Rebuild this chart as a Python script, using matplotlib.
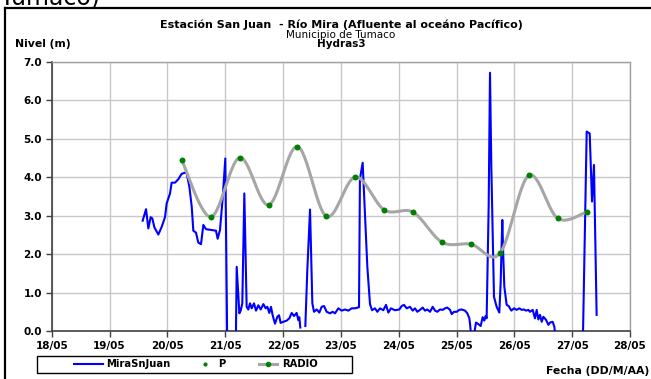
import numpy as np
import matplotlib
matplotlib.use('Agg')
import matplotlib.pyplot as plt
from matplotlib.lines import Line2D
from matplotlib.patches import Rectangle

# days counted from 18/05 00:00
tick_labels = ['18/05', '19/05', '20/05', '21/05', '22/05', '23/05',
               '24/05', '25/05', '26/05', '27/05', '28/05']

# MiraSnJuan level (m); nan = missing data
mira_day = [1.573, 1.631, 1.671, 1.711, 1.740, 1.775, 1.844, 1.902, 1.959, 1.988,
            2.046, 2.074, 2.132, 2.190, 2.247, 2.305, 2.334, 2.380, 2.421, 2.449,
            2.495, 2.535, 2.582, 2.622, 2.668, 2.749, 2.841, 2.870, 2.910, 2.956,
            3.002, 3.037, 3.110, 3.182, 3.199, 3.245, 3.268, 3.296, 3.331, 3.371,
            3.400, 3.429, 3.458, 3.498, 3.533, 3.573, 3.614, 3.660, 3.700, 3.729,
            3.763, 3.792, 3.821, 3.861, 3.902, 3.931, 3.959, 4.005, 4.063, 4.109,
            4.150, 4.190, 4.236, 4.265, 4.282, 4.299, 4.340, 4.386, 4.420, 4.467,
            4.507, 4.536, 4.582, 4.628, 4.668, 4.709, 4.755, 4.812, 4.859, 4.899,
            4.956, 5.014, 5.072, 5.129, 5.187, 5.245, 5.291, 5.314, 5.330, 5.377,
            5.458, 5.504, 5.539, 5.590, 5.631, 5.677, 5.734, 5.781, 5.821, 5.867,
            5.936, 6.011, 6.052, 6.092, 6.138, 6.196, 6.242, 6.282, 6.322, 6.369,
            6.415, 6.455, 6.495, 6.542, 6.588, 6.628, 6.668, 6.715, 6.761, 6.801,
            6.841, 6.888, 6.917, 6.957, 7.003, 7.049, 7.089, 7.147, 7.187, 7.222,
            7.233, 7.270, 7.337, 7.377, 7.418, 7.452, 7.481, 7.504, 7.521, 7.556,
            7.579, 7.602, 7.648, 7.694, 7.740, 7.763, 7.792, 7.809, 7.827, 7.867,
            7.902, 7.948, 7.994, 8.040, 8.086, 8.127, 8.167, 8.202, 8.242, 8.271,
            8.317, 8.357, 8.386, 8.415, 8.444, 8.473, 8.502, 8.548, 8.589, 8.617,
            8.663, 8.692, 8.740, 8.950, 9.181, 9.251, 9.303, 9.343, 9.377, 9.423]
mira_val = [2.87, 3.17, 2.67, 2.96, 2.93, 2.70, 2.51, 2.71, 2.96, 3.32,
            3.58, 3.86, 3.86, 3.95, 4.09, 4.12, 4.10, 3.76, 3.24, 2.61,
            2.56, 2.30, 2.26, 2.76, 2.65, 2.63, 2.61, 2.40, 2.63, 3.45,
            4.49, -0.60, -0.60, -0.60, 1.67, 0.46, 0.53, 0.72, 3.58, 0.63,
            0.56, 0.72, 0.59, 0.72, 0.53, 0.67, 0.56, 0.70, 0.59, 0.63,
            0.47, 0.63, 0.41, 0.19, 0.37, 0.41, 0.21, 0.24, 0.27, 0.33,
            0.47, 0.39, 0.47, 0.28, 0.36, 0.09, np.nan, 0.13, 1.58, 3.16,
            0.72, 0.50, 0.56, 0.48, 0.63, 0.65, 0.50, 0.46, 0.50, 0.46,
            0.59, 0.53, 0.56, 0.53, 0.59, 0.59, 0.61, 0.62, 3.95, 4.38,
            1.67, 0.70, 0.54, 0.59, 0.50, 0.59, 0.54, 0.68, 0.48, 0.59,
            0.54, 0.56, 0.65, 0.68, 0.59, 0.63, 0.53, 0.59, 0.50, 0.55,
            0.61, 0.53, 0.56, 0.50, 0.63, 0.53, 0.50, 0.56, 0.55, 0.59,
            0.61, 0.55, 0.44, 0.50, 0.50, 0.55, 0.56, 0.53, 0.46, 0.33,
            0.20, -0.40, 0.22, 0.18, 0.13, 0.36, 0.27, 0.39, 0.33, 3.24,
            6.72, 4.28, 0.89, 0.63, 0.48, 1.24, 2.89, 1.93, 1.15, 0.68,
            0.65, 0.53, 0.59, 0.55, 0.59, 0.55, 0.56, 0.53, 0.55, 0.50,
            0.55, 0.33, 0.55, 0.30, 0.42, 0.24, 0.37, 0.29, 0.16, 0.22,
            0.24, 0.11, -0.60, -0.60, -0.60, 5.19, 5.14, 3.37, 4.32, 0.42]

# P / RADIO points (06:00 and 18:00 readings)
p_day = [2.25, 2.75, 3.25, 3.75, 4.25, 4.75, 5.25, 5.75, 6.25, 6.75,
         7.25, 7.75, 8.25, 8.75, 9.25]
p_val = [4.44, 2.97, 4.51, 3.28, 4.80, 2.98, 4.01, 3.15, 3.09, 2.31,
         2.26, 2.02, 4.05, 2.93, 3.10]

series_names = ['MiraSnJuan', 'P', 'RADIO']


# Excel style smoothed line (Catmull-Rom as cubic bezier)
def smooth(xs, ys, n=30):
    pts = np.column_stack([xs, ys]).astype(float)
    pad = np.vstack([pts[0], pts, pts[-1]])
    out = []
    t = np.linspace(0, 1, n)[:, None]
    for i in range(len(pts) - 1):
        p0, p1, p2, p3 = pad[i], pad[i + 1], pad[i + 2], pad[i + 3]
        c1 = p1 + (p2 - p0) / 6.0
        c2 = p2 - (p3 - p1) / 6.0
        seg = ((1 - t) ** 3) * p1 + 3 * ((1 - t) ** 2) * t * c1 + 3 * (1 - t) * t ** 2 * c2 + t ** 3 * p2
        out.append(seg if i == 0 else seg[1:])
    out = np.vstack(out)
    return out[:, 0], out[:, 1]


W, H = 651, 379
fig = plt.figure(figsize=(W / 100, H / 100), dpi=100)
fig.patch.set_facecolor('white')


def fx(px):
    return px / W


def fy(py):
    return 1 - py / H


ax = fig.add_axes([fx(51.7), fy(331), 578.3 / W, 269 / H])
ax.set_xlim(0, 10)
ax.set_ylim(0, 7)

ax.plot(mira_day, mira_val, color='#0000FF', lw=1.5, zorder=3)
sx, sy = smooth(p_day, p_val)
ax.plot(sx, sy, color='#A6A6A6', lw=2.2, zorder=4, solid_capstyle='round')
ax.plot(p_day, p_val, 'o', color='#008000', ms=4.3, mew=0, zorder=5)

ax.set_xticks(range(len(tick_labels)))
ax.set_xticklabels(tick_labels)
ax.set_yticks(np.arange(0, 7.01, 1.0))
ax.set_yticklabels(['%.1f' % v for v in np.arange(0, 7.01, 1.0)])
for lab in ax.get_xticklabels() + ax.get_yticklabels():
    lab.set_fontweight('bold')
    lab.set_fontsize(7.5)
ax.tick_params(direction='out', length=4, width=1, color='#404040', pad=3)
ax.grid(True, color='#C8C8C8', lw=1.0)
ax.set_axisbelow(True)
for s in ['left', 'bottom']:
    ax.spines[s].set_color('#404040')
    ax.spines[s].set_linewidth(1.2)
for s in ['top', 'right']:
    ax.spines[s].set_color('#A0A0A0')
    ax.spines[s].set_linewidth(1.0)

# titles
fig.text(fx(341), fy(27.5), 'Estación San Juan  - Río Mira (Afluente al oceáno Pacífico)',
         ha='center', va='baseline', fontsize=8, fontweight='bold')
fig.text(fx(341), fy(37.5), 'Municipio de Tumaco', ha='center', va='baseline', fontsize=7.5)
fig.text(fx(341), fy(47.3), 'Hydras3', ha='center', va='baseline', fontsize=7.5, fontweight='bold')
fig.text(fx(15), fy(46.7), 'Nivel (m)', ha='left', va='baseline', fontsize=7.8, fontweight='bold')
fig.text(fx(649), fy(374), 'Fecha (DD/M/AA)', ha='right', va='baseline', fontsize=7.8, fontweight='bold')

# cut off text above the frame
fig.text(0, fy(5), 'Tumaco)', ha='left', va='baseline', fontsize=17)

# outer frame (only top and left visible)
fig.add_artist(Line2D([fx(4.5), fx(4.5)], [0, fy(7.5)], color='black', lw=1.6))
fig.add_artist(Line2D([fx(4.5), 1], [fy(7.5), fy(7.5)], color='black', lw=1.6))

# legend box, drawn by hand to follow the reference layout
fig.add_artist(Rectangle((fx(36.5), fy(372.7)), 315.5 / W, 16.7 / H, transform=fig.transFigure,
                         facecolor='white', edgecolor='black', lw=1.0))
ly = fy(364.3)
fig.add_artist(Line2D([fx(74), fx(103)], [ly, ly], color='#0000FF', lw=1.5))
fig.text(fx(106), ly, series_names[0], ha='left', va='center', fontsize=7.2, fontweight='bold')
fig.add_artist(Line2D([fx(204.6)], [ly], ls='none', marker='o', color='#008000', ms=3, mew=0))
fig.text(fx(218), ly, series_names[1], ha='left', va='center', fontsize=7.2, fontweight='bold')
fig.add_artist(Line2D([fx(259), fx(277)], [ly, ly], color='#A6A6A6', lw=2.2))
fig.add_artist(Line2D([fx(268)], [ly], ls='none', marker='o', color='#008000', ms=4, mew=0))
fig.text(fx(282), ly, series_names[2], ha='left', va='center', fontsize=7.2, fontweight='bold')

fig.savefig('out.png', dpi=100)
